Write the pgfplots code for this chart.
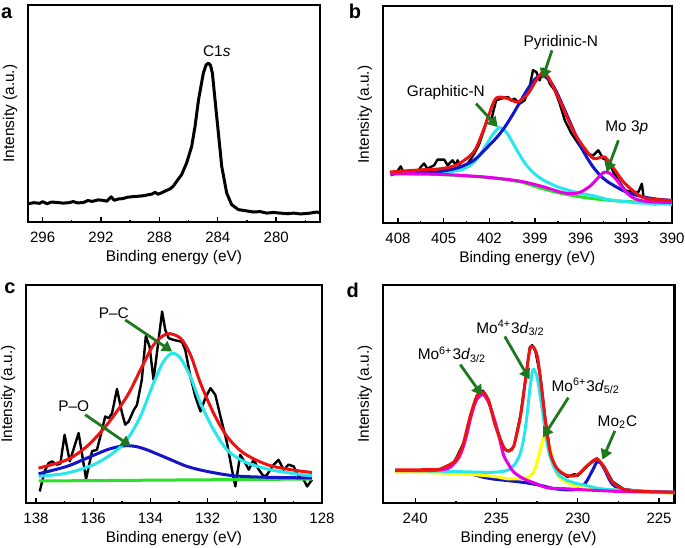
\documentclass[border=0pt]{standalone}
\usepackage{fontspec}
\setmainfont{Liberation Sans}
\usepackage{pgfplots}
\pgfplotsset{compat=1.18}
\usetikzlibrary{arrows.meta}

\definecolor{fitred}{RGB}{235,20,20}
\definecolor{fitblue}{RGB}{20,20,200}
\definecolor{fitcyan}{RGB}{40,230,235}
\definecolor{fitmag}{RGB}{230,0,230}
\definecolor{fityel}{RGB}{255,255,0}
\definecolor{fitgreen}{RGB}{40,225,40}
\definecolor{arrgreen}{RGB}{30,120,30}

\newcommand{\lbl}{\fontsize{7.7}{9}\selectfont}
\newcommand{\tkl}{\fontsize{7.5}{9}\selectfont}
\newcommand{\pnl}{\fontsize{10}{11}\selectfont\bfseries}

\tikzset{arr/.style={arrgreen, line width=1.4pt, -{Triangle[length=5pt,width=5.8pt]}}}

\pgfplotsset{
  xps/.style={
    scale only axis,
    x dir=reverse,
    ymin=0, ymax=100,
    ytick=\empty,
    xtick pos=left,
    tick align=inside,
    major tick length=2.3pt,
    minor tick length=1.2pt,
    every tick/.style={black, line width=0.7pt},
    axis line style={line width=1.1pt},
    tick label style={font=\tkl},
    /pgf/number format/assume math mode=true,
    xticklabel style={anchor=center, yshift=-7.5pt},
    label style={font=\lbl},
    xlabel={Binding energy (eV)},
    ylabel={Intensity (a.u.)},
    xlabel style={at={(axis description cs:0.5,0)}, anchor=center, yshift=-18pt},
    ylabel style={at={(axis description cs:-0.035,0.5)}, anchor=south, inner sep=0pt},
  },
  raw/.style={black, line width=1.2pt, line join=round},
  fit/.style={line width=1.5pt, smooth},
}

\begin{document}
\begin{tikzpicture}
\useasboundingbox (0,0) rectangle (342.5pt,273.5pt);

% ---------- a: C 1s
\begin{axis}[xps, at={(14pt,162.5pt)}, width=146pt, height=108.5pt,
  xmin=277, xmax=297,
  xtick={280,284,288,292,296}, minor xtick={278,282,286,290,294}]
\addplot[black, line width=1.5pt, line join=round] coordinates {
(297,8.4)(296.6,8.9)(296.2,8.6)(296,9.4)(295.7,8.4)(295.4,9.2)(295,9.0)(294.6,8.7)
(294.2,8.9)(293.9,9.4)(293.6,8.8)(293.2,9.0)(292.9,9.9)(292.6,9.5)(292.2,10.2)(291.9,10.0)
(291.6,9.6)(291.3,11.6)(291.1,10.0)(290.8,10.6)(290.5,10.8)(290.2,11.4)(289.8,11.7)(289.4,11.9)
(289.1,12.1)(288.8,12.5)(288.5,12.9)(288.3,13.7)(288.1,12.8)(287.8,13.6)(287.5,14.6)(287.28,15.2)
(287.05,16.5)(286.82,18.7)(286.48,21.8)(286.14,27.1)(285.79,34.8)(285.56,44.0)(285.32,56.3)
(284.99,68.6)(284.8,72.4)(284.65,73.2)(284.5,72.2)(284.37,68.6)(284.19,56.3)(283.96,41.0)
(283.73,25.6)(283.39,13.3)(283.05,8.0)(282.59,5.7)(282.1,5.2)(281.56,4.6)(281.1,4.8)
(280.64,4.1)(280.2,4.4)(279.73,4.1)(279.2,3.8)(278.8,4.1)(278.35,3.7)(277.8,4.0)(277.2,4.6)(277.0,4.2)
};
\node[font=\lbl] at (axis cs:284.07,78.5) {C1\textit{s}};
\end{axis}

% ---------- b: N 1s
\begin{axis}[xps, at={(191.35pt,162pt)}, width=144.65pt, height=108.5pt,
  xmin=390, xmax=409,
  xtick={390,393,...,408}, minor xtick={391.5,394.5,...,406.5}]
\addplot[raw] coordinates {
(408.48,22.0)(408.15,22.7)(407.82,26.1)(407.6,22.7)(407.2,23.2)(406.8,22.8)(406.5,25.8)
(406.28,27.4)(406.06,25.0)(405.62,26.6)(405.4,29.2)(404.96,29.2)(404.74,26.6)(404.41,28.9)
(404.19,26.6)(404.08,28.9)(403.86,25.8)(403.42,27.3)(402.98,32.0)(402.65,36.6)(402.32,43.5)
(402.10,48.8)(401.88,47.3)(401.55,56.5)(401.22,57.3)(400.78,58.1)(400.56,56.5)(400.34,57.3)
(400.01,55.0)(399.68,56.5)(399.35,62.7)(399.13,70.4)(398.91,69.6)(398.69,65.7)(398.47,71.1)
(398.25,68.8)(398.03,64.2)(397.70,61.1)(397.37,55.0)(397.04,47.3)(396.60,41.2)(396.16,36.6)
(395.72,32.0)(395.17,31.2)(394.84,33.5)(394.51,29.6)(394.18,28.9)(393.85,23.5)(393.52,19.7)
(393.08,15.1)(392.64,14.3)(392.2,14.3)(391.98,18.1)(391.87,12.0)(391.54,10.4)(391.10,8.6)
(390.66,9.7)(390.0,9.7)
};
\addplot[fit, fitgreen] coordinates {
(408.5,22.6)(406,22.5)(404,21.9)(402,20.9)(400,19.0)(398.5,15.8)(397.5,14.0)
(396.5,12.6)(395.5,11.5)(394.5,10.7)(393.5,10.1)(392,9.6)(390,9.2)
};
\addplot[fit, fitcyan] coordinates {
(408.5,22.8)(407,22.9)(406,23.0)(405,23.3)(404,24.3)(403.5,25.5)(403,28.0)(402.6,31.5)
(402.2,36.0)(401.8,40.5)(401.33,43.9)(400.9,42.0)(400.5,37.5)(400.1,32.5)(399.7,28.0)
(399.2,23.8)(398.6,20.4)(398,18.2)(397.5,16.6)(396.4,14.3)(395,12.3)(394.2,10.8)(393,9.8)
(392,9.2)(390,8.6)
};
\addplot[fit, fitblue] coordinates {
(408.5,23.0)(407,23.1)(406,23.3)(405,24.0)(404,25.6)(403,29.0)(402,35.8)(401.5,39.5)
(401,44.0)(400.5,49.5)(400,55.5)(399.5,61.5)(399,66.3)(398.6,68.0)(398.2,66.8)(397.7,62.0)
(397.2,54.5)(396.7,46.5)(396.2,38.5)(395.7,31.5)(395.2,26.0)(394.7,21.8)(394.2,18.9)
(393.5,16.0)(393,14.3)(392,12.2)(391,11.0)(390,10.4)
};
\addplot[fit, fitmag] coordinates {
(408.5,22.8)(406,22.6)(404,22.0)(402,21.0)(400,19.3)(398.5,16.8)(397.5,14.6)(396.8,13.6)
(396.2,13.8)(395.8,15.0)(395.3,17.5)(394.9,20.5)(394.5,23.3)(394.3,23.5)(394.0,22.5)
(393.6,19.5)(393.2,15.8)(392.8,12.8)(392.3,10.8)(391.5,9.8)(390,9.4)
};
\addplot[fit, fitred] coordinates {
(408.53,23.5)(406.5,24.5)(405.18,25.0)(404.08,27.0)(403.0,33.0)(402.32,44.0)(401.66,56.5)
(401.22,58.0)(400.78,57.3)(400.12,55.8)(399.46,59.6)(398.9,66.0)(398.58,68.8)(398.14,67.3)
(397.48,58.1)(396.38,41.2)(395.28,30.4)(394.8,30.0)(394.4,30.4)(393.74,24.3)(393.08,18.1)
(391.98,12.0)(391.0,10.8)(390.0,10.4)
};
\draw[arr] (axis cs:402.87,55.0) -- (axis cs:401.44,44.2);
\draw[arr] (axis cs:397.88,79.6) -- (axis cs:398.51,66.5);
\draw[arr] (axis cs:393.52,38.1) -- (axis cs:394.29,23.5);
\node[font=\lbl] at (axis cs:404.85,59.9) {Graphitic-N};
\node[font=\lbl] at (axis cs:397.30,83.4) {Pyridinic-N};
\node[font=\lbl] at (axis cs:392.97,43.9) {Mo 3\textit{p}};
\end{axis}

% ---------- c: P 2p
\begin{axis}[xps, at={(13pt,22pt)}, width=148pt, height=109pt,
  xmin=128, xmax=138.35,
  xtick={128,130,...,138}, minor xtick={129,131,...,137}]
\addplot[raw] coordinates {
(137.87,5.3)(137.7,14.5)(137.56,18.3)(137.44,19.1)(137.27,17.6)(137.15,18.0)(137.0,31.3)
(136.82,19.1)(136.51,32.1)(136.25,11.0)(136.04,23.8)(135.87,24.4)(135.75,30.5)(135.58,39.7)
(135.46,38.9)(135.34,41.2)(135.17,52.3)(134.99,41.2)(134.88,35.9)(134.76,37.4)(134.58,42.7)
(134.47,45.0)(134.3,56.5)(134.16,76.6)(134.03,71.8)(133.89,56.5)(133.59,87.8)(133.48,79.4)
(133.36,75.6)(133.19,74.8)(132.9,74.0)(132.78,70.2)(132.6,58.0)(132.43,48.9)(132.25,42.0)
(132.08,48.1)(131.9,52.7)(131.73,49.6)(131.55,39.7)(131.32,27.5)(131.15,15.3)(131.03,7.6)
(130.86,22.1)(130.68,18.3)(130.56,15.3)(130.39,19.8)(130.21,15.3)(130.04,12.2)(129.92,13.0)
(129.69,17.6)(129.52,19.8)(129.34,15.3)(129.17,17.6)(128.99,16.8)(128.82,12.2)(128.64,10.7)
(128.52,7.6)(128.35,10.7)
};
\addplot[line width=1.5pt, fitgreen] coordinates {(137.91,10.1)(128.35,11.0)};
\addplot[fit, fitblue] coordinates {
(137.91,13.4)(136.92,16.8)(136.22,20.6)(135.52,24.4)(135.1,25.9)(134.82,26.3)(134.5,25.9)
(134.12,24.4)(133.42,20.6)(132.72,16.8)(132.02,14.5)(131.09,12.5)(129.92,11.8)(128.35,11.5)
};
\addplot[fit, fitcyan] coordinates {
(137.91,12.2)(136.92,13.7)(135.98,17.6)(135.28,23.2)(134.82,29.0)(134.35,39.7)(133.89,55.0)
(133.54,64.9)(133.24,68.7)(132.95,66.4)(132.6,58.0)(132.25,45.8)(131.79,33.6)(131.32,24.4)
(130.74,19.1)(129.92,15.6)(129.11,13.7)(128.35,12.5)
};
\addplot[fit, fitred] coordinates {
(137.91,16.0)(136.92,19.8)(136.22,26.0)(135.52,35.9)(134.82,48.9)(134.35,61.0)(133.89,72.5)
(133.42,77.6)(132.95,75.6)(132.6,68.0)(132.25,55.0)(131.79,41.2)(131.32,30.5)(130.74,22.9)
(129.92,17.6)(129.11,15.3)(128.35,14.0)
};
\draw[arr] (axis cs:134.88,84.0) -- (axis cs:133.24,69.5);
\draw[arr] (axis cs:136.28,40.5) -- (axis cs:134.68,26.0);
\node[font=\lbl] at (axis cs:135.28,87.0) {P--C};
\node[font=\lbl] at (axis cs:136.68,44.3) {P--O};
\end{axis}

% ---------- d: Mo 3d
\begin{axis}[xps, at={(191.35pt,22pt)}, width=145.9pt, height=109pt,
  xmin=224.05, xmax=242,
  xtick={225,230,235,240}, minor xtick={227.5,232.5,237.5}]
\addplot[raw] coordinates {
(241.24,14.4)(240,14.1)(239,14.4)(238.46,14.9)(237.64,18.2)(237.02,27.5)(236.61,40.0)
(236.2,49.5)(235.83,51.5)(235.48,47.2)(235.07,35.8)(234.55,25.0)(234.24,23.6)(233.93,26.0)
(233.52,40.5)(233.21,57.5)(232.95,71.5)(232.8,72.4)(232.6,69.5)(232.29,57.5)(231.98,37.5)
(231.67,22.0)(231.26,15.0)(230.64,12.0)(230.2,13.2)(230.0,12.5)(229.41,17.0)(228.83,20.5)
(228.38,16.8)(227.86,9.8)(227.14,6.2)(226.12,5.6)(225.5,5.0)(224.06,4.6)
};
\addplot[fit, fitblue] coordinates {
(241.24,14.2)(238.46,14.0)(237.0,13.6)(236.4,13.0)(235.8,11.8)(235.2,11.0)(234.35,10.3)
(233.5,9.6)(232.8,8.8)(232.0,7.6)(231.5,6.6)(230.6,6.0)(230.0,6.3)(229.8,7.2)(229.6,8.6)
(229.4,10.6)(229.2,13.5)(229.0,16.3)(228.83,18.8)(228.6,18.4)(228.38,15.8)(228.17,12.6)
(227.97,9.6)(227.7,7.6)(227.14,6.2)(226.1,5.4)(224.06,4.8)
};
\addplot[fit, fityel] coordinates {
(241.24,14.1)(238.5,13.8)(236.4,13.0)(235.0,12.0)(234.35,11.1)(233.5,11.2)(233.0,11.9)
(232.7,14.5)(232.49,19.0)(232.29,25.0)(232.08,30.1)(231.88,28.5)(231.67,24.0)(231.47,17.2)
(231.26,13.0)(231.05,11.1)(230.6,9.2)(230.2,8.1)(229.5,7.2)(228.17,6.2)(226.1,5.2)(224.06,4.6)
};
\addplot[fit, fitcyan] coordinates {
(241.24,14.9)(238.5,14.6)(236.4,14.2)(235.2,14.1)(234.35,14.9)(233.9,17.5)(233.6,21.5)
(233.42,26.0)(233.25,33.0)(233.11,41.0)(232.95,52.0)(232.8,60.0)(232.7,61.2)(232.55,59.0)
(232.4,53.5)(232.19,43.0)(232.0,33.0)(231.8,24.0)(231.5,17.0)(231.2,13.2)(230.85,11.1)
(230.2,9.2)(229.5,8.1)(228.17,6.2)(224.06,5.0)
};
\addplot[fit, fitmag] coordinates {
(241.24,14.9)(239.0,14.9)(238.0,15.8)(237.64,17.9)(237.3,21.0)(237.02,26.3)(236.81,32.0)
(236.61,38.4)(236.4,44.0)(236.2,47.6)(235.83,49.8)(235.48,46.0)(235.2,40.0)(234.96,33.9)
(234.75,27.5)(234.55,21.7)(234.2,17.0)(233.93,14.1)(233.3,11.0)(232.6,9.0)(231.88,7.0)
(230.64,6.5)(229,5.8)(227,5.2)(224.06,5.0)
};
\addplot[fit, fitred] coordinates {
(241.24,15.2)(239.0,15.3)(238.46,15.6)(237.64,18.7)(237.3,22.5)(237.02,27.8)(236.61,40.0)
(236.2,49.1)(235.83,50.9)(235.48,46.8)(235.07,35.4)(234.55,25.5)(234.24,24.0)(233.93,26.3)
(233.52,40.0)(233.21,56.7)(232.95,70.4)(232.74,71.6)(232.49,67.3)(232.29,56.7)(231.98,36.9)
(231.67,22.5)(231.26,15.7)(230.64,12.6)(230.02,12.9)(229.41,17.2)(228.83,20.2)(228.38,16.4)
(227.86,9.6)(227.14,6.2)(226.12,5.3)(224.06,5.0)
};
\draw[arr] (axis cs:237.23,63.5) -- (axis cs:235.89,49.4);
\draw[arr] (axis cs:234.49,76.4) -- (axis cs:232.97,56.7);
\draw[arr] (axis cs:230.58,48.3) -- (axis cs:232.14,30.1);
\draw[arr] (axis cs:227.72,33.1) -- (axis cs:228.48,19.9);
\node[font=\lbl] at (axis cs:237.74,68.1) {Mo\textsuperscript{6+}3\textit{d}\textsubscript{3/2}};
\node[font=\lbl] at (axis cs:234.14,80.2) {Mo\textsuperscript{4+}3\textit{d}\textsubscript{3/2}};
\node[font=\lbl] at (axis cs:229.51,53.6) {Mo\textsuperscript{6+}3\textit{d}\textsubscript{5/2}};
\node[font=\lbl] at (axis cs:227.56,36.9) {Mo\textsubscript{2}C};
\end{axis}

\node[font=\pnl, inner sep=0pt] at (3.35pt,266.75pt) {a};
\node[font=\pnl, inner sep=0pt] at (177.5pt,267.65pt) {b};
\node[font=\pnl, inner sep=0pt] at (5pt,129.35pt) {c};
\node[font=\pnl, inner sep=0pt] at (176.35pt,128.5pt) {d};
\end{tikzpicture}
\end{document}
